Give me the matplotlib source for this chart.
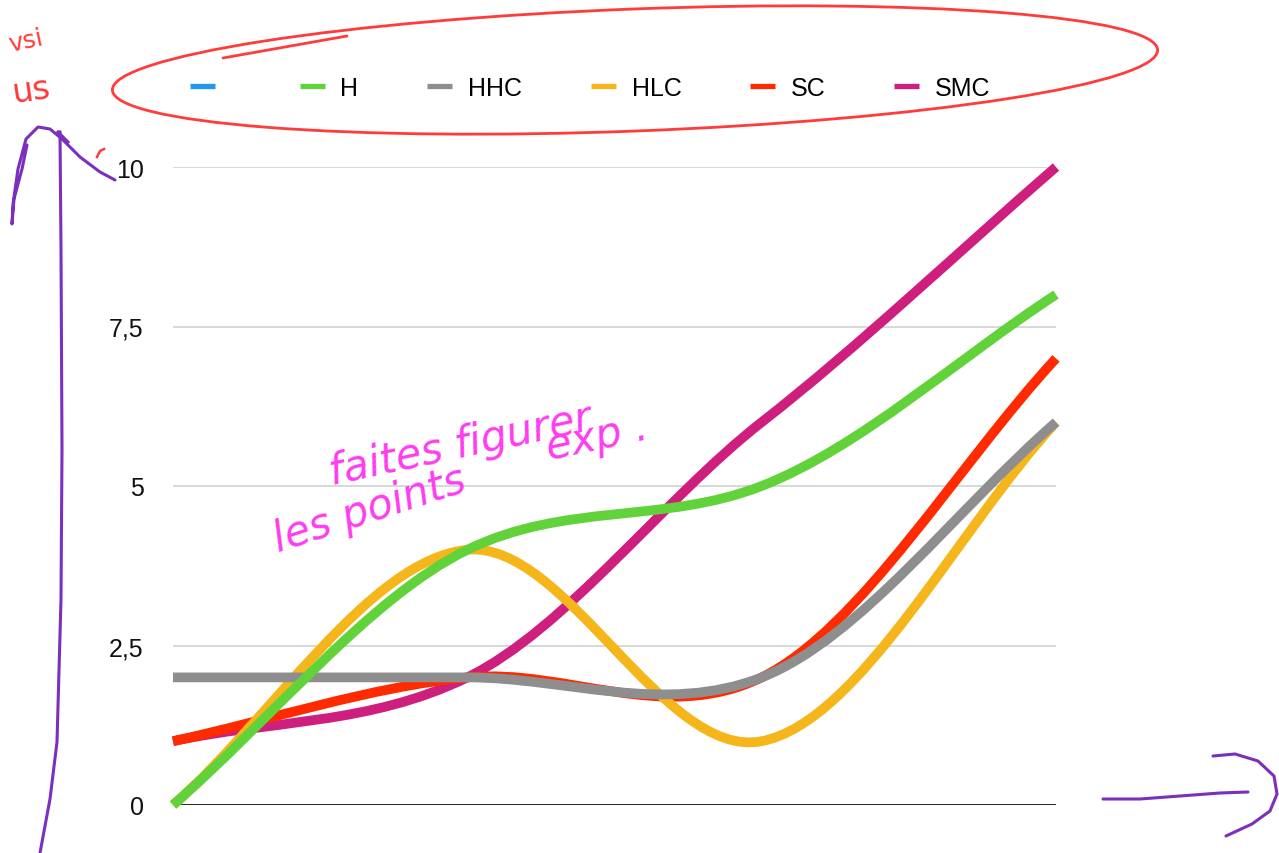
import numpy as np
import matplotlib
matplotlib.use('Agg')
from matplotlib import pyplot as plt
from matplotlib.path import Path
from matplotlib.patches import PathPatch, Ellipse
from matplotlib.lines import Line2D

plt.rcParams['font.family'] = ['Liberation Sans', 'DejaVu Sans']

# series values, one point per category
categories = [0, 1, 2, 3]
blank = []
h = [0, 4, 5, 8]
hhc = [2, 2, 2, 6]
hlc = [0, 4, 1, 6]
sc = [1, 2, 2, 7]
smc = [1, 2, 6, 10]

labels = ['', 'H', 'HHC', 'HLC', 'SC', 'SMC']
colors = ['#2196F3', '#62D23B', '#8E8E8E', '#F5B61C', '#FF2A00', '#CE1E7E']
series = [blank, h, hhc, hlc, sc, smc]

y_ticks = [0, 2.5, 5, 7.5, 10]
y_ticklabels = ['0', '2,5', '5', '7,5', '10']

TENSION = 0.9


def smooth_path(xs, ys, k=TENSION):
    # cardinal spline through the points, drawn as cubic bezier segments;
    # end points keep the full slope of their only segment
    n = len(xs)
    m = []
    for i in range(n):
        lo = max(i - 1, 0)
        hi = min(i + 1, n - 1)
        scale = k if 0 < i < n - 1 else 1.0
        m.append(scale * (ys[hi] - ys[lo]) / (xs[hi] - xs[lo]))
    verts = [(xs[0], ys[0])]
    codes = [Path.MOVETO]
    for i in range(n - 1):
        d = (xs[i + 1] - xs[i]) / 3.0
        verts += [(xs[i] + d, ys[i] + m[i] * d),
                  (xs[i + 1] - d, ys[i + 1] - m[i + 1] * d),
                  (xs[i + 1], ys[i + 1])]
        codes += [Path.CURVE4] * 3
    return Path(verts, codes)


fig = plt.figure(figsize=(12.79, 8.54), dpi=100)
W, H = 1279, 854
ax = fig.add_axes([173 / W, 1 - 806 / H, 883 / W, 638 / H])

ax.set_xlim(0, 3)
ax.set_ylim(0, 10)
for s in ax.spines.values():
    s.set_visible(False)
ax.set_xticks([])
ax.set_yticks(y_ticks)
ax.set_yticklabels(y_ticklabels)
ax.tick_params(axis='y', length=0, pad=21, labelsize=18, labelcolor='#111111')
for y in y_ticks[1:]:
    ax.axhline(y, color='#d2d2d2', lw=1.2, zorder=1)
ax.axhline(0, color='#111111', lw=2.0, zorder=1)

# later series go underneath
for i in range(len(series) - 1, -1, -1):
    vals = series[i]
    if len(vals) < 2:
        continue
    patch = PathPatch(smooth_path(categories[:len(vals)], vals), facecolor='none',
                      edgecolor=colors[i], lw=7, capstyle='butt', joinstyle='round',
                      clip_on=False, zorder=3 + (len(series) - i))
    ax.add_patch(patch)

handles = [Line2D([], [], color=c, lw=3.8, solid_capstyle='butt') for c in colors]
ax.legend(handles, labels, ncol=6, loc='center left', frameon=False,
          bbox_to_anchor=(190 / W, 1 - 89 / H), bbox_transform=fig.transFigure,
          fontsize=18, handlelength=1.0, handletextpad=0.64, columnspacing=2.74,
          borderpad=0, borderaxespad=0)

# pen marks on top of the chart, in pixel units
ink = fig.add_axes([0, 0, 1, 1], facecolor='none')
ink.set_xlim(0, W)
ink.set_ylim(H, 0)
ink.axis('off')

red = '#FF3B3B'
ink.add_patch(Ellipse((635, 71), 1046, 122, angle=-2.2, fill=False,
                      edgecolor=red, lw=2.0))
ink.plot([223, 347], [59, 37], color=red, lw=2.0, solid_capstyle='round')
ink.text(6, 52, 'vsi', color=red, fontsize=18, rotation=12, family='DejaVu Sans')
ink.text(10, 103, 'us', color=red, fontsize=24, rotation=8, family='DejaVu Sans')
ink.plot([97, 100, 104], [158, 152, 150], color=red, lw=1.8)

purple = '#7B2FBE'
ink.plot([27, 22, 14, 12, 13, 18, 26, 38, 50, 62, 80, 100, 115],
         [146, 170, 200, 225, 205, 170, 140, 128, 130, 140, 158, 173, 181],
         color=purple, lw=2.2, solid_capstyle='round', solid_joinstyle='round')
ink.plot([60, 61, 62, 61, 57, 50, 40], [133, 250, 450, 600, 743, 800, 854],
         color=purple, lw=2.2)
ink.plot([58, 68], [133, 143], color=purple, lw=2.2)
ink.plot([1103, 1140, 1180, 1220, 1248], [800, 800, 797, 794, 793],
         color=purple, lw=2.2, solid_capstyle='round')
ink.plot([1213, 1235, 1258, 1274, 1277, 1270, 1252, 1226],
         [757, 755, 762, 777, 795, 812, 825, 837],
         color=purple, lw=2.2, solid_capstyle='round')

pink = '#FF3CF0'
hand = dict(color=pink, fontsize=30, style='italic', family='DejaVu Sans',
            fontweight='light')
ink.text(325, 485, 'faites figurer', rotation=12, **hand)
ink.text(268, 552, 'les points', rotation=18, **hand)
ink.text(542, 460, 'exp .', rotation=12, **hand)

fig.savefig('out.png', dpi=100)
